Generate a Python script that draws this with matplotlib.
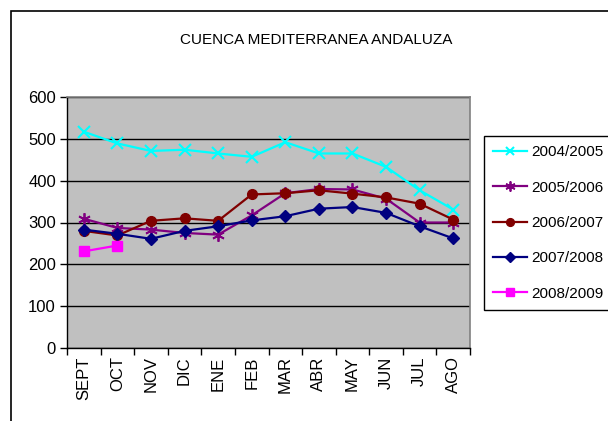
import matplotlib
matplotlib.use('Agg')
import matplotlib.pyplot as plt
from matplotlib.patches import Rectangle
import numpy as np

plt.rcParams['font.family'] = ['Liberation Sans', 'DejaVu Sans']

months = ['SEPT', 'OCT', 'NOV', 'DIC', 'ENE', 'FEB', 'MAR', 'ABR', 'MAY', 'JUN', 'JUL', 'AGO']
s2004 = [517, 489, 471, 474, 465, 457, 492, 465, 465, 433, 377, 331]
s2005 = [309, 287, 283, 275, 271, 317, 370, 380, 379, 357, 300, 300]
s2006 = [280, 269, 304, 310, 304, 367, 370, 377, 369, 360, 345, 307]
s2007 = [283, 273, 261, 280, 291, 305, 315, 333, 337, 323, 291, 262]
s2008 = [231, 245]
labels = ['2004/2005', '2005/2006', '2006/2007', '2007/2008', '2008/2009']

fig = plt.figure(figsize=(6.08, 4.21), dpi=100)
# outer chart frame (runs past the image edge)
fig.patches.append(Rectangle((10.5 / 608, -0.1), 2, 1.1 - 11 / 421, transform=fig.transFigure,
                             fill=False, edgecolor='black', linewidth=1.2))

ax = fig.add_axes([67 / 608, (421 - 348) / 421, 403 / 608, 251 / 421])
ax.set_facecolor('#C0C0C0')

x = np.arange(len(months)) + 0.5
ax.plot(x, s2004, color='#00FFFF', marker='x', markersize=8, mew=1.5, lw=1.6, label=labels[0])
ax.plot(x, s2005, color='#800080', marker=(6, 2, 0), markersize=9, mew=1.3, lw=1.6, label=labels[1])
ax.plot(x, s2006, color='#800000', marker='o', markersize=7, lw=1.6, label=labels[2])
ax.plot(x, s2007, color='#000080', marker='D', markersize=6, lw=1.6, label=labels[3])
ax.plot(x[:len(s2008)], s2008, color='#FF00FF', marker='s', markersize=6.5, lw=1.6, label=labels[4])

ax.set_xlim(0, 12)
ax.set_ylim(0, 600)
ax.set_yticks(range(0, 601, 100))
ax.set_xticks(range(13))
ax.set_xticks(x, minor=True)
ax.set_xticklabels([])
ax.set_xticklabels(months, minor=True, rotation=90, fontsize=12)
ax.tick_params(axis='x', which='minor', length=0, pad=6)
ax.tick_params(axis='x', which='major', length=5, width=1, direction='out')
ax.tick_params(axis='y', length=5, width=1, direction='out', labelsize=12, pad=3)
ax.grid(axis='y', color='black', linewidth=1)
ax.set_axisbelow(True)
for side in ['top', 'right']:
    ax.spines[side].set_color('#808080')
    ax.spines[side].set_linewidth(1.2)
for side in ['left', 'bottom']:
    ax.spines[side].set_color('black')
    ax.spines[side].set_linewidth(1)

fig.text(316 / 608, 1 - 40 / 421, 'CUENCA MEDITERRANEA ANDALUZA', ha='center', va='center', fontsize=11)

leg = fig.legend(loc='upper left', bbox_to_anchor=(484 / 608, 1 - 136 / 421), borderaxespad=0,
                 fontsize=11, frameon=True, fancybox=False, edgecolor='black', framealpha=1,
                 handlelength=2.2, labelspacing=1.4, borderpad=0.6, handletextpad=0.3,
                 markerscale=0.8)
leg.get_frame().set_linewidth(1)

fig.savefig('out.png', dpi=100)
